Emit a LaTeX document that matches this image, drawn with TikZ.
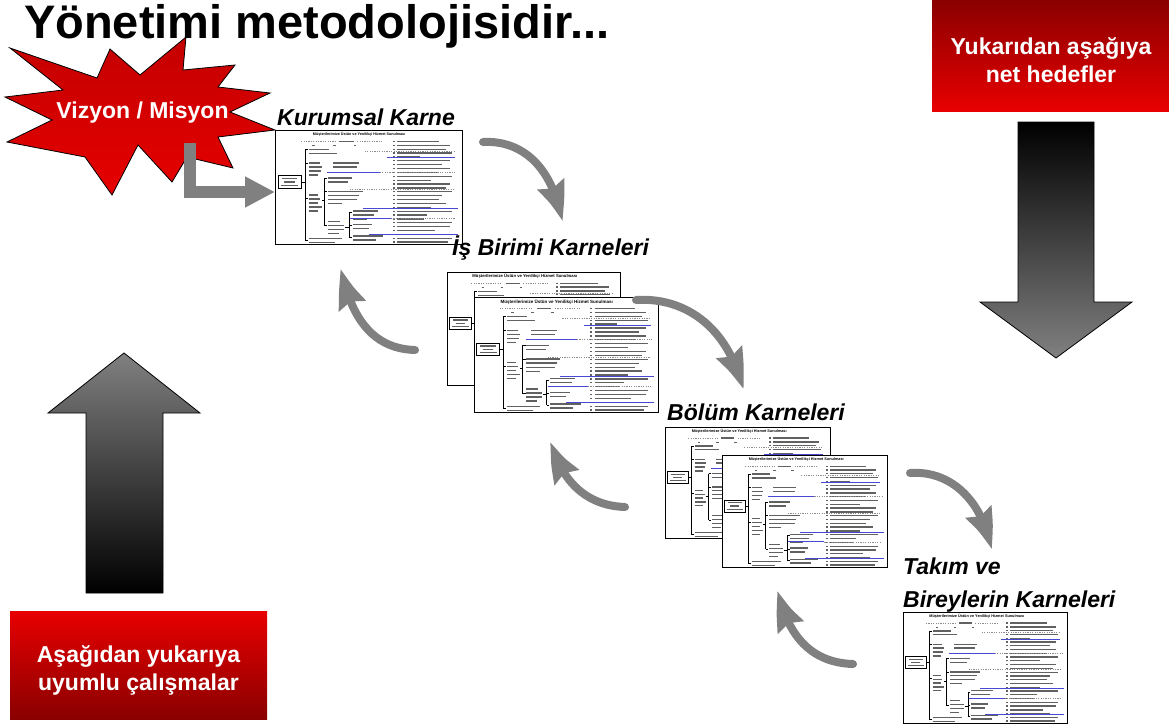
\documentclass[tikz,border=0pt]{standalone}
\usepackage{fontspec}
\usepackage{graphicx}
\setmainfont{Liberation Sans}
\usetikzlibrary{arrows.meta,bending}

\definecolor{arrowgray}{RGB}{128,128,128}
\definecolor{deepred}{RGB}{138,0,0}
\definecolor{vividred}{RGB}{232,0,0}
\definecolor{startop}{RGB}{196,0,0}
\definecolor{starbottom}{RGB}{230,0,0}
\definecolor{lineblue}{RGB}{72,72,210}
\definecolor{midgray}{RGB}{128,128,128}

\tikzset{
  card/.style={draw=black, line width=0.9pt, fill=white, inner sep=0pt, outer sep=0pt, anchor=north west},
  cardlabel/.style={font=\fontsize{23}{27}\selectfont\bfseries\itshape, anchor=base west, inner sep=0pt},
  redbox/.style={inner sep=0pt, outer sep=0pt, anchor=north west},
  boxtext/.style={text=white, anchor=base, inner sep=0pt, font=\fontsize{23}{27}\selectfont\bfseries},
  bigarrow/.style={draw=black, line width=0.8pt},
  cyclearrow/.style={draw=arrowgray, line width=8pt, line cap=round,
                 -{Stealth[length=42pt,width=27pt,inset=5pt,bend]}},
  lshaft/.style={draw=arrowgray, line width=12pt, -{Triangle[length=30pt,width=29pt]}},
  barline/.style={black!62, line width=1.3pt},
  treeline/.style={black, line width=0.55pt},
  blueline/.style={lineblue, line width=1pt},
  dotline/.style={black!45, line width=0.5pt, dash pattern=on 1.2pt off 1.2pt},
  % a scorecard sheet drawn in a 100 x 100 box (origin top left)
  pics/karne/.style={code={
    \node[font=\fontsize{#1}{#1}\selectfont\bfseries, inner sep=0pt] at (45,4)
      {Müşterilerimize Üstün ve Yenilikçi Hizmet Sunulması};
    % header scale
    \draw[dotline] (14,10) -- (32,10) (44,10) -- (58,10);
    \draw[barline] (34,10) -- (42,10);
    \draw[barline, line width=0.7pt] (20,13.5) -- (21.5,13.5) (31,13.5) -- (32.5,13.5) (42,13.5) -- (43.5,13.5);
    % root box
    \draw[treeline] (1.5,40) rectangle (14,51);
    \draw[barline] (3.5,42.5) -- (12,42.5) (5,45.5) -- (10.5,45.5) (3,48.5) -- (12.5,48.5);
    % first level
    \draw[treeline] (14,45.5) -- (16,45.5) (16,17) -- (16,97);
    \foreach \y in {17,29,60,97} \draw[treeline] (16,\y) -- (17.5,\y);
    \draw[barline] (18,17) -- (29,17) (18,20.5) -- (33,20.5);
    \draw[barline] (18,29) -- (24,29) (18,32.5) -- (25,32.5) (18,36) -- (24.5,36) (18,39.5) -- (23,39.5);
    \draw[barline] (31,29) -- (45,29) (31,32.5) -- (44,32.5);
    \draw[barline] (18,57) -- (23,57) (18,60.5) -- (24,60.5) (18,64) -- (23,64) (18,67.5) -- (25,67.5) (18,71) -- (23,71);
    \draw[barline] (18,95) -- (36,95) (18,98.5) -- (32,98.5);
    % second level
    \draw[treeline] (25,62) -- (26.5,62) (26.5,42) -- (26.5,84);
    \foreach \y in {42,54,84} \draw[treeline] (26.5,\y) -- (28,\y);
    \draw[barline] (28.5,42) -- (41,42) (28.5,45.5) -- (39,45.5);
    \draw[barline] (28.5,54) -- (47,54) (28.5,57.5) -- (45,57.5) (28.5,61) -- (44,61) (28.5,64.5) -- (36,64.5);
    \draw[barline] (28.5,80) -- (35,80) (28.5,83.5) -- (37,83.5) (28.5,87) -- (37,87) (28.5,90.5) -- (34,90.5);
    % third level
    \draw[treeline] (37.5,85) -- (39.5,85) (39.5,72) -- (39.5,94);
    \foreach \y in {72,84,94} \draw[treeline] (39.5,\y) -- (41,\y);
    \draw[barline] (41.5,71) -- (55,71) (41.5,74.5) -- (53,74.5) (41.5,78) -- (49,78);
    \draw[barline] (41.5,83) -- (52,83) (41.5,86.5) -- (50,86.5);
    \draw[barline] (41.5,93) -- (58,93) (41.5,96.5) -- (54,96.5);
    % measures column
    \foreach \y/\l in {10/22,13.4/28,16.8/26,20.2/29,23.6/12,27/28,30.4/24,33.8/28,37.2/22,40.6/29,
                       44/18,47.4/28,50.8/26,54.2/29,57.6/24,61/22,64.4/26,67.8/18,71.2/29,74.6/16,
                       78/14,81.4/29,84.8/28,88.2/20,91.6/24,95/29,98.2/27}
      \draw[barline] (63,\y) -- (64,\y) (65.5,\y) -- (65.5+\l,\y);
    % target lines
    \draw[dotline] (48,18.5) -- (96,18.5);
    \draw[blueline] (60,24.5) -- (96,24.5);
    \draw[blueline] (28,37) -- (56,37);
    \draw[dotline] (56,37) -- (97,37);
    \draw[dotline] (40,52) -- (96,52);
    \draw[blueline] (47,69) -- (98,69);
    \draw[blueline] (40,77.5) -- (62,77.5);
    \draw[dotline] (62,77.5) -- (96,77.5);
    \draw[blueline] (50,92) -- (98,92);
  }},
  pics/karne/.default=4,
}

\begin{document}
\begin{tikzpicture}[x=1pt, y=-1pt]
  \useasboundingbox (0,0) rectangle (1169,725);
  \fill[white] (0,0) rectangle (1169,725);

  % heading
  \node[anchor=base west, inner sep=0pt, font=\fontsize{47}{50}\selectfont\bfseries] (title) at (24,39)
    {Yönetimi metodolojisidir...};

  % red boxes
  \node[redbox, top color=deepred, bottom color=vividred, minimum width=237pt, minimum height=111pt]
    (topbox) at (932,0) {};
  \node[boxtext] (topline1) at (1051,55) {Yukarıdan aşağıya};
  \node[boxtext] (topline2) at (1051,82) {net hedefler};
  \node[redbox, top color=vividred, bottom color=deepred, minimum width=257pt, minimum height=108pt]
    (bottombox) at (10,611) {};
  \node[boxtext] (botline1) at (138.5,662) {Aşağıdan yukarıya};
  \node[boxtext] (botline2) at (138.5,690) {uyumlu çalışmalar};

  % large block arrows
  \path[bigarrow, top color=black, bottom color=midgray]
    (1018,122) -- (1094,122) -- (1094,302) -- (1132,302) -- (1056,358) -- (980,302) -- (1018,302) -- cycle;
  \path[bigarrow, top color=midgray, bottom color=black]
    (124,353) -- (200,413) -- (163,413) -- (163,593) -- (86,593) -- (86,413) -- (48,413) -- cycle;

  % vision / mission burst
  \path[draw=black, line width=0.8pt, top color=startop, bottom color=starbottom]
    (10,48) -- (97,78) -- (110,49) -- (140,75) -- (186,37) -- (183,70) -- (235,65) -- (218,87)
    -- (270,93) -- (230,112) -- (275,130) -- (218,137) -- (233,168) -- (187,157) -- (172,182)
    -- (138,145) -- (112,195) -- (85,157) -- (7,142) -- (52,120) -- (5,97) -- (63,90) -- cycle;
  \node[font=\fontsize{23}{26}\selectfont\bfseries, text=white, anchor=base, inner sep=0pt]
    (vizyon) at (142.5,118) {Vizyon / Misyon};

  % scorecards
  \node[card, minimum width=187pt, minimum height=114pt] (kk) at (275,130) {};
  \pic[xscale=1.87, yscale=1.14] at (kk.north west) {karne=3.7};

  \node[card, minimum width=173pt, minimum height=113pt] (ib1) at (447,272) {};
  \pic[xscale=1.73, yscale=1.13] at (ib1.north west) {karne=4.2};
  \node[card, minimum width=184pt, minimum height=115pt] (ib2) at (474,297) {};
  \pic[xscale=1.84, yscale=1.15] at (ib2.north west) {karne=4.5};

  \node[card, minimum width=165pt, minimum height=111pt] (bk1) at (665,427) {};
  \pic[xscale=1.65, yscale=1.11] at (bk1.north west) {karne=3.8};
  \node[card, minimum width=165pt, minimum height=112pt] (bk2) at (722,455) {};
  \pic[xscale=1.65, yscale=1.12] at (bk2.north west) {karne=3.8};

  \node[card, minimum width=164pt, minimum height=111pt] (tk) at (903,612) {};
  \pic[xscale=1.64, yscale=1.11] at (tk.north west) {karne=3.8};

  % card titles
  \node[cardlabel] (lkk) at (277,125) {Kurumsal Karne};
  \node[cardlabel] (lib) at (452,255) {İş Birimi Karneleri};
  \node[cardlabel] (lbk) at (667,420) {Bölüm Karneleri};
  \node[cardlabel] (ltk1) at (903,574) {Takım ve};
  \node[cardlabel] (ltk2) at (903,607) {Bireylerin Karneleri};

  % bent arrow from the burst into the corporate card
  \coordinate (lstart) at (189.5,143);
  \draw[lshaft] (lstart) |- ([yshift=-5pt]kk.west);

  % cascade arrows (down) and feedback arrows (up)
  \coordinate (a1s) at (483,142);  \coordinate (a1e) at (562,222);
  \coordinate (a2s) at (636,300);  \coordinate (a2e) at (743,390);
  \coordinate (a3s) at (910,473);  \coordinate (a3e) at (991,550);
  \coordinate (a4s) at (415,350);  \coordinate (a4e) at (341,268);
  \coordinate (a5s) at (625,507);  \coordinate (a5e) at (551,441);
  \coordinate (a6s) at (853,664);  \coordinate (a6e) at (778,590);
  \draw[cyclearrow] (a1s) .. controls (518,140) and (552,162) .. (a1e);
  \draw[cyclearrow] (a2s) .. controls (683,297) and (728,325) .. (a2e);
  \draw[cyclearrow] (a3s) .. controls (950,470) and (983,500) .. (a3e);
  \draw[cyclearrow] (a4s) .. controls (378,349) and (352,325) .. (a4e);
  \draw[cyclearrow] (a5s) .. controls (590,506) and (562,485) .. (a5e);
  \draw[cyclearrow] (a6s) .. controls (815,663) and (788,640) .. (a6e);
\end{tikzpicture}
\end{document}
